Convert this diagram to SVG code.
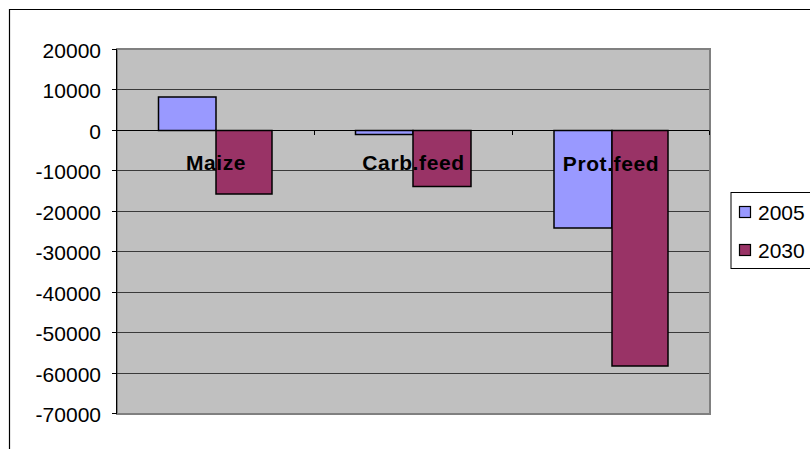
<svg xmlns="http://www.w3.org/2000/svg" width="810" height="449" viewBox="0 0 810 449">
<style>
.grid{stroke:#3a3a3a;stroke-width:1;fill:none}
.tick{stroke:#000;stroke-width:1;fill:none}
.ylab{font-family:"Liberation Sans",Arial,sans-serif;font-size:21px;fill:#000;text-anchor:end}
.cat{font-family:"Liberation Sans",Arial,sans-serif;font-size:21px;font-weight:bold;fill:#000;text-anchor:middle;letter-spacing:0.6px}
.leg{font-family:"Liberation Sans",Arial,sans-serif;font-size:21px;fill:#000}
.s2005{fill:#9999FF;stroke:#000;stroke-width:1.5}
.s2030{fill:#993366;stroke:#000;stroke-width:1.5}
</style>
<rect x="0" y="0" width="810" height="449" fill="#fff"/>
<!-- chart border -->
<path d="M9.5 449 V9.5 H815" fill="none" stroke="#000" stroke-width="1.2"/>
<!-- plot area -->
<g id="plot-area">
<rect x="117" y="49" width="593" height="365" fill="#C0C0C0" stroke="#808080" stroke-width="2"/>
<g class="grid">
<line x1="117" y1="89.5" x2="709" y2="89.5"/>
<line x1="117" y1="130.5" x2="709" y2="130.5"/>
<line x1="117" y1="170.5" x2="709" y2="170.5"/>
<line x1="117" y1="211.5" x2="709" y2="211.5"/>
<line x1="117" y1="251.5" x2="709" y2="251.5"/>
<line x1="117" y1="292.5" x2="709" y2="292.5"/>
<line x1="117" y1="332.5" x2="709" y2="332.5"/>
<line x1="117" y1="373.5" x2="709" y2="373.5"/>
</g>
</g>
<!-- axes -->
<g id="y-axis">
<line x1="116.5" y1="49" x2="116.5" y2="414" stroke="#000" stroke-width="1"/>
<g class="tick">
<line x1="112" y1="49.5" x2="117" y2="49.5"/>
<line x1="112" y1="89.5" x2="117" y2="89.5"/>
<line x1="112" y1="130.5" x2="117" y2="130.5"/>
<line x1="112" y1="170.5" x2="117" y2="170.5"/>
<line x1="112" y1="211.5" x2="117" y2="211.5"/>
<line x1="112" y1="251.5" x2="117" y2="251.5"/>
<line x1="112" y1="292.5" x2="117" y2="292.5"/>
<line x1="112" y1="332.5" x2="117" y2="332.5"/>
<line x1="112" y1="373.5" x2="117" y2="373.5"/>
<line x1="112" y1="413.5" x2="117" y2="413.5"/>
</g>
<text class="ylab" x="101" y="58">20000</text>
<text class="ylab" x="101" y="98">10000</text>
<text class="ylab" x="101" y="139">0</text>
<text class="ylab" x="101" y="179">-10000</text>
<text class="ylab" x="101" y="220">-20000</text>
<text class="ylab" x="101" y="260">-30000</text>
<text class="ylab" x="101" y="301">-40000</text>
<text class="ylab" x="101" y="341">-50000</text>
<text class="ylab" x="101" y="382">-60000</text>
<text class="ylab" x="101" y="422">-70000</text>
</g>
<g id="x-axis">
<line x1="117" y1="130.5" x2="709" y2="130.5" stroke="#000" stroke-width="1"/>
<g class="tick">
<line x1="314.5" y1="130.5" x2="314.5" y2="135"/>
<line x1="512.5" y1="130.5" x2="512.5" y2="135"/>
<line x1="709.5" y1="130.5" x2="709.5" y2="135"/>
</g>
</g>
<!-- bars -->
<g id="maize">
<rect class="s2005" x="158.5" y="97" width="57.5" height="33.5"/>
<rect class="s2030" x="216" y="130.5" width="56" height="63.5"/>
</g>
<g id="carb-feed">
<rect class="s2005" x="355.5" y="130.5" width="57.5" height="4"/>
<rect class="s2030" x="413" y="130.5" width="58" height="56"/>
</g>
<g id="prot-feed">
<rect class="s2005" x="554" y="130.5" width="58" height="97.5"/>
<rect class="s2030" x="612" y="130.5" width="56" height="235.5"/>
</g>
<!-- category labels -->
<g id="category-labels">
<text class="cat" x="216" y="170">Maize</text>
<text class="cat" x="413.5" y="170">Carb.feed</text>
<text class="cat" x="611" y="170.5">Prot.feed</text>
</g>
<!-- legend -->
<g id="legend">
<rect x="731" y="192.5" width="90" height="76" fill="#fff" stroke="#000" stroke-width="1"/>
<rect x="739.5" y="206.5" width="11" height="11" fill="#9999FF" stroke="#000" stroke-width="1.2"/>
<text class="leg" x="758" y="219.5">2005</text>
<rect x="739.5" y="244.5" width="11" height="11" fill="#993366" stroke="#000" stroke-width="1.2"/>
<text class="leg" x="758" y="257.5">2030</text>
</g>
</svg>
